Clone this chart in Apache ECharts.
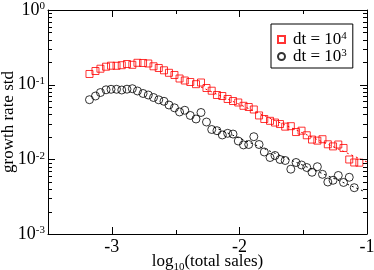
<!DOCTYPE html>
<html><head><meta charset="utf-8">
<script src="https://cdn.jsdelivr.net/npm/echarts@6/dist/echarts.min.js"></script>
<style>html,body{margin:0;padding:0;background:#fff}#c{width:374px;height:270px}</style>
</head><body><div id="c"></div>
<script>
// ---- data ----
const logSales = [-3.175,-3.128,-3.089,-3.045,-3.006,-2.963,-2.922,-2.881,-2.839,-2.799,
  -2.755,-2.714,-2.673,-2.632,-2.591,-2.552,-2.509,-2.469,-2.428,-2.385,
  -2.340,-2.301,-2.258,-2.217,-2.176,-2.134,-2.092,-2.050,-2.009,-1.968,
  -1.927,-1.887,-1.846,-1.805,-1.760,-1.721,-1.682,-1.641,-1.597,-1.556,
  -1.513,-1.472,-1.431,-1.389,-1.349,-1.307,-1.266,-1.225,-1.184,-1.139,
  -1.100,-1.060];
const stdDt4 = [0.139,0.1524,0.1636,0.1740,0.1795,0.1789,0.1823,0.1891,0.1845,0.1963,
  0.1951,0.1921,0.1762,0.1672,0.1557,0.1442,0.1348,0.1209,0.1137,0.1086,
  0.1015,0.1069,0.0902,0.0830,0.0727,0.0705,0.0643,0.0604,0.0577,0.0521,
  0.0502,0.0465,0.0387,0.0347,0.0328,0.0311,0.0297,0.0274,0.0278,0.0232,
  0.0242,0.0210,0.0184,0.0178,0.0186,0.0159,0.0149,0.0158,0.0142,0.00995,
  0.00907,0.00902];
const stdDt3 = [0.0629,0.0705,0.0785,0.0854,0.0867,0.0867,0.0848,0.0870,0.0883,0.0823,
  0.0762,0.0727,0.0673,0.0627,0.0599,0.0534,0.0490,0.0431,0.0454,0.0387,
  0.0347,0.0424,0.0316,0.0251,0.0242,0.0212,0.0223,0.0218,0.0176,0.0156,
  0.0158,0.0201,0.0158,0.01254,0.01058,0.01125,0.00995,0.00965,0.00738,0.00907,
  0.00840,0.00777,0.00671,0.00797,0.00630,0.00497,0.00524,0.00608,0.00490,0.00575,
  0.00417];
const fitX4 = [-2.301, -1.0];
const fitY4 = [0.093, 0.00921];
const fitX3 = [-2.2, -1.02];
const fitY3 = [0.027, 0.0037];
const seriesNames = ['dt = 10^4', 'dt = 10^3'];
const xTickValues = [-3, -2, -1];
const xTickLabels = ['-3', '-2', '-1'];
const xMinorTicks = [-2.5, -1.5];
const yTickValues = [0.001, 0.01, 0.1, 1];
const yTickExps = ['-3', '-2', '-1', '0'];
const yMinorTicks = [0.002,0.003,0.004,0.005,0.006,0.007,0.008,0.009,
  0.02,0.03,0.04,0.05,0.06,0.07,0.08,0.09,
  0.2,0.3,0.4,0.5,0.6,0.7,0.8,0.9];
const xAxisName = ['log', '10', '(total sales)'];
const yAxisName = 'growth rate std';

// ---- chart ----
const SERIF = 'Liberation Serif';
const chart = echarts.init(document.getElementById('c'), null, {renderer: 'canvas'});

const tickSpecs = [];
xTickValues.slice(0, 2).forEach(v => tickSpecs.push({axis: 'x', v: v, len: 7}));
xMinorTicks.forEach(v => tickSpecs.push({axis: 'x', v: v, len: 4}));
yTickValues.slice(1, 3).forEach(v => tickSpecs.push({axis: 'y', v: v, len: 7}));
yMinorTicks.forEach(v => tickSpecs.push({axis: 'y', v: v, len: 4}));

const supRich = {
  b: {fontFamily: SERIF, fontSize: 18, color: '#000', lineHeight: 18},
  s: {fontFamily: SERIF, fontSize: 11, color: '#000', verticalAlign: 'top', lineHeight: 11}
};

chart.setOption({
  animation: false,
  backgroundColor: '#fff',
  grid: {left: 48, top: 10, right: 7, bottom: 36, containLabel: false, outerBoundsMode: 'none'},
  legend: {
    orient: 'vertical', left: 271, top: 24,
    data: seriesNames, selectedMode: false,
    itemWidth: 7, itemHeight: 7, itemGap: 0,
    padding: [7, 6, 3, 6],
    borderColor: '#000', borderWidth: 1, backgroundColor: '#fff',
    formatter: n => { const p = n.split('^'); return '{b|' + p[0] + '}{s|' + p[1] + '}'; },
    textStyle: {fontFamily: SERIF, fontSize: 17, color: '#000', rich: {
      b: {fontFamily: SERIF, fontSize: 17, color: '#000', lineHeight: 17, padding: [0, 0, 0, 3]},
      s: {fontFamily: SERIF, fontSize: 11, color: '#000', verticalAlign: 'top', lineHeight: 11}
    }}
  },
  xAxis: [{
    type: 'value', min: -3.5, max: -1, interval: 0.5, position: 'bottom',
    axisLine: {show: true, lineStyle: {color: '#000', width: 1}},
    axisTick: {show: false}, splitLine: {show: false},
    axisLabel: {
      margin: 4, fontFamily: SERIF, fontSize: 18, color: '#000', showMaxLabel: true, showMinLabel: true,
      formatter: v => { const i = xTickValues.findIndex(t => Math.abs(t - v) < 1e-6); return i < 0 ? '' : xTickLabels[i]; }
    },
    name: '{n|' + xAxisName[0] + '}{sub|' + xAxisName[1] + '}{n|' + xAxisName[2] + '}',
    nameLocation: 'middle', nameGap: 19, nameMoveOverlap: false,
    nameTextStyle: {fontFamily: SERIF, fontSize: 17, color: '#000', rich: {
      n: {fontFamily: SERIF, fontSize: 17, color: '#000', lineHeight: 17},
      sub: {fontFamily: SERIF, fontSize: 11, color: '#000', verticalAlign: 'bottom', lineHeight: 11, padding: [0, 0, -3, 0]}
    }}
  }, {
    type: 'value', min: -3.5, max: -1, position: 'top',
    axisLine: {show: true, onZero: false, lineStyle: {color: '#000', width: 1}},
    axisTick: {show: false}, axisLabel: {show: false}, splitLine: {show: false}
  }],
  yAxis: [{
    type: 'log', logBase: 10, min: 0.001, max: 1, position: 'left',
    axisLine: {show: true, lineStyle: {color: '#000', width: 1}},
    axisTick: {show: false}, splitLine: {show: false}, minorTick: {show: false},
    axisLabel: {
      margin: 3, showMinLabel: true, showMaxLabel: true,
      formatter: v => { const i = yTickValues.findIndex(t => Math.abs(Math.log10(t) - Math.log10(v)) < 1e-6); return i < 0 ? '' : '{b|10}{s|' + yTickExps[i] + '}'; },
      rich: supRich
    },
    name: yAxisName, nameLocation: 'middle', nameRotate: 90, nameGap: 31, nameMoveOverlap: false,
    nameTextStyle: {fontFamily: SERIF, fontSize: 17, color: '#000'}
  }, {
    type: 'log', logBase: 10, min: 0.001, max: 1, position: 'right',
    axisLine: {show: true, lineStyle: {color: '#000', width: 1}},
    axisTick: {show: false}, axisLabel: {show: false}, splitLine: {show: false}
  }],
  series: [{
    type: 'line', name: 'fit4', data: fitX4.map((x, i) => [x, fitY4[i]]),
    symbol: 'none', silent: true, z: 1,
    lineStyle: {color: '#ff0000', width: 1, type: [2, 3]}
  }, {
    type: 'line', name: 'fit3', data: fitX3.map((x, i) => [x, fitY3[i]]),
    symbol: 'none', silent: true, z: 1,
    lineStyle: {color: '#000', width: 1, type: [2, 3]}
  }, {
    type: 'scatter', name: seriesNames[0],
    data: stdDt4.map((y, i) => [logSales[i], y]),
    symbol: 'rect', symbolSize: 7, z: 3,
    itemStyle: {color: 'rgba(255,255,255,0)', borderColor: '#ff0000', borderWidth: 1}
  }, {
    type: 'scatter', name: seriesNames[1],
    data: stdDt3.map((y, i) => [logSales[i], y]),
    symbol: 'circle', symbolSize: 8, z: 3,
    itemStyle: {color: 'rgba(255,255,255,0)', borderColor: '#000', borderWidth: 1}
  }, {
    type: 'custom', name: 'ticks', silent: true, z: 5,
    data: tickSpecs.map(t => t.axis === 'x' ? [t.v, 0.01] : [-2, t.v]),
    renderItem: (params, api) => {
      const t = tickSpecs[params.dataIndex];
      const cs = params.coordSys;
      const L = cs.x, R = cs.x + cs.width, T = cs.y, B = cs.y + cs.height;
      const st = {stroke: '#000', lineWidth: 1};
      if (t.axis === 'x') {
        const px = Math.round(api.coord([t.v, 0.01])[0]) + 0.5;
        return {type: 'group', children: [
          {type: 'line', shape: {x1: px, y1: B, x2: px, y2: B - t.len}, style: st},
          {type: 'line', shape: {x1: px, y1: T, x2: px, y2: T + t.len}, style: st}
        ]};
      }
      const py = Math.round(api.coord([-2, t.v])[1]) + 0.5;
      return {type: 'group', children: [
        {type: 'line', shape: {x1: L, y1: py, x2: L + t.len, y2: py}, style: st},
        {type: 'line', shape: {x1: R, y1: py, x2: R - t.len, y2: py}, style: st}
      ]};
    }
  }]
});
</script>
</body></html>
